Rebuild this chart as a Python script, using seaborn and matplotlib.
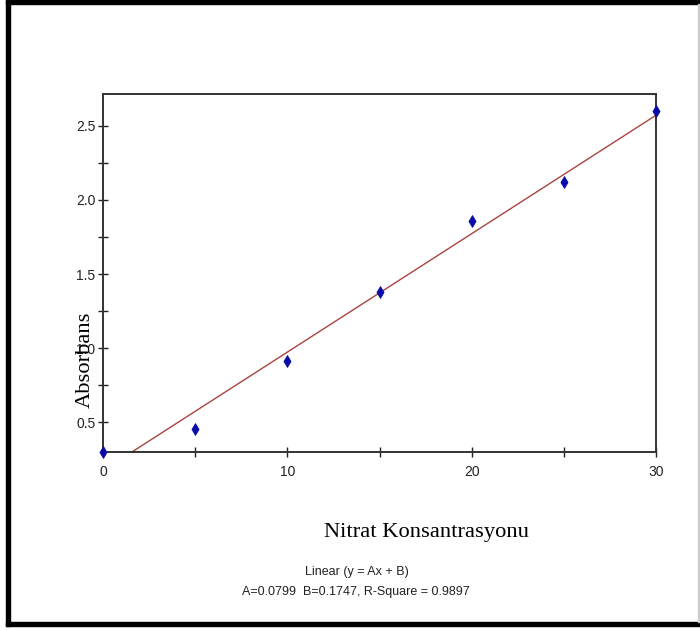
import matplotlib
matplotlib.use("Agg")
import matplotlib.pyplot as plt
import seaborn as sns
import numpy as np
import pandas as pd
from matplotlib.patches import Rectangle
from matplotlib.ticker import MultipleLocator, FixedLocator

# Calibration measurements
concentration = [0, 5, 10, 15, 20, 25, 30]
absorbance = [0.30, 0.455, 0.915, 1.38, 1.86, 2.12, 2.60]

# Linear fit parameters (y = A x + B)
fit_slope = 0.0799
fit_intercept = 0.1747
r_square = 0.9897

x_ticks = [0, 10, 20, 30]
x_tick_labels = ["0", "10", "20", "30"]
y_ticks = [0.5, 1.0, 1.5, 2.0, 2.5]
y_tick_labels = ["0.5", "1.0", "1.5", "2.0", "2.5"]

sns.set_theme(style="white")
sans = ["Liberation Sans", "DejaVu Sans"]
serif = ["Liberation Serif", "DejaVu Serif"]

fig = plt.figure(figsize=(7.0, 6.3), dpi=100)
fig.patch.set_facecolor("white")
ax = fig.add_axes([103 / 700, 1 - 452 / 630, (656 - 103) / 700, (452 - 94) / 630])

points = pd.DataFrame({"x": concentration, "y": absorbance})
fit_x = np.array([min(concentration), max(concentration)], dtype=float)
fit = pd.DataFrame({"x": fit_x, "y": fit_slope * fit_x + fit_intercept})

sns.lineplot(data=fit, x="x", y="y", ax=ax, color="#a8443e", linewidth=1.0, zorder=2)
sns.scatterplot(data=points, x="x", y="y", ax=ax, marker="d", s=36,
                color="#0a0aa8", edgecolor="#0a0aa8", linewidth=0.6, zorder=3,
                clip_on=False)

ax.set_xlim(0, 30)
ax.set_ylim(0.3, 2.715)
ax.xaxis.set_major_locator(FixedLocator(x_ticks))
ax.set_xticklabels(x_tick_labels)
ax.yaxis.set_major_locator(FixedLocator(y_ticks))
ax.set_yticklabels(y_tick_labels)
ax.xaxis.set_minor_locator(MultipleLocator(5))
ax.yaxis.set_minor_locator(MultipleLocator(0.25))
ax.tick_params(which="both", direction="inout", length=7, width=1.0, color="#222222")
ax.tick_params(axis="x", which="both", bottom=True, pad=6)
ax.tick_params(axis="y", which="both", left=True, pad=2)
for lab in ax.get_xticklabels() + ax.get_yticklabels():
    lab.set_family(sans)
    lab.set_fontsize(10)
    lab.set_color("#222222")

for spine in ax.spines.values():
    spine.set_visible(True)
    spine.set_color("#333333")
    spine.set_linewidth(1.4)

ax.set_xlabel("")
ax.set_ylabel("")

fig.text(85 / 700, 1 - 359.5 / 630, "Absorbans", rotation=90, ha="center", va="center",
         family=serif, fontsize=16.2, color="black")
fig.text(427 / 700, 1 - 533 / 630, "Nitrat Konsantrasyonu", ha="center", va="center",
         family=serif, fontsize=16.2, color="black")
fig.text(357 / 700, 1 - 572 / 630, "Linear (y = Ax + B)", ha="center", va="center",
         family=sans, fontsize=9, color="#222222")
fig.text(356 / 700, 1 - 592 / 630,
         f"A={fit_slope:.4f}  B={fit_intercept:.4f}, R-Square = {r_square:.4f}",
         ha="center", va="center", family=sans, fontsize=9, color="#222222")

# Outer frame
W, H = 700, 630
fig.patches.append(Rectangle((6 / W, 1 - 626 / H), 4 / W, 626 / H, transform=fig.transFigure,
                             color="black", zorder=10))
fig.patches.append(Rectangle((6 / W, 1 - 4 / H), 694 / W, 4 / H, transform=fig.transFigure,
                             color="black", zorder=10))
fig.patches.append(Rectangle((6 / W, 1 - 626 / H), 694 / W, 4 / H, transform=fig.transFigure,
                             color="black", zorder=10))
fig.patches.append(Rectangle((698 / W, 1 - 622 / H), 1 / W, 618 / H, transform=fig.transFigure,
                             color="#cccccc", zorder=10))

fig.savefig("out.png", dpi=100, facecolor="white")
